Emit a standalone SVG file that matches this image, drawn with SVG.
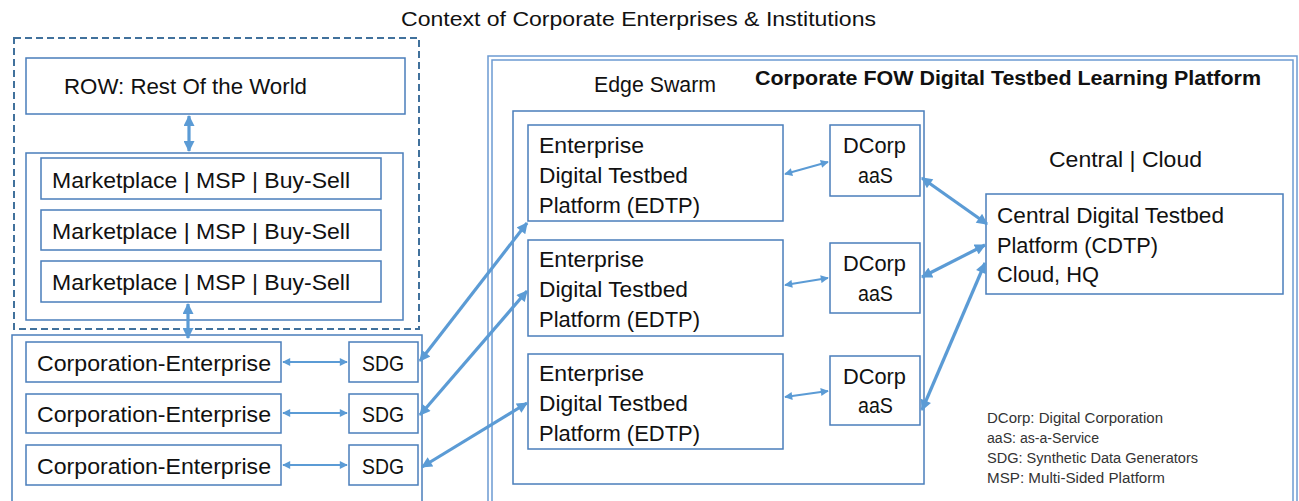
<svg xmlns="http://www.w3.org/2000/svg" width="1299" height="501" viewBox="0 0 1299 501">
<style>
text{font-family:"Liberation Sans",Arial,sans-serif;fill:#111;}
.t{font-size:22px;}
.b{fill:#fff;stroke:#4a7ebb;stroke-width:1.5;}
.o{fill:none;stroke:#4a7ebb;stroke-width:1.5;}
.thin{stroke:#5b9bd5;stroke-width:2;fill:none;marker-start:url(#as);marker-end:url(#as);}
.thick{stroke:#5b9bd5;stroke-width:3.2;fill:none;marker-start:url(#al);marker-end:url(#al);}
.lg{font-size:14px;fill:#333;}
</style>
<defs>
<marker id="as" viewBox="0 0 10 10" refX="9" refY="5" markerWidth="9" markerHeight="8" markerUnits="userSpaceOnUse" orient="auto-start-reverse"><path d="M0,0 L10,5 L0,10 z" fill="#5b9bd5"/></marker>
<marker id="al" viewBox="0 0 10 10" refX="9" refY="5" markerWidth="12" markerHeight="11" markerUnits="userSpaceOnUse" orient="auto-start-reverse"><path d="M0,0 L10,5 L0,10 z" fill="#5b9bd5"/></marker>
</defs>
<rect width="1299" height="501" fill="#fff"/>
<text x="401" y="26" font-size="20" textLength="475" lengthAdjust="spacingAndGlyphs">Context of Corporate Enterprises &amp; Institutions</text>

<g id="row-context">
<rect x="14" y="38" width="405" height="291" fill="none" stroke="#41719c" stroke-width="2" stroke-dasharray="7,4"/>
</g>
<g id="row"><rect class="b" x="26" y="58" width="379" height="56"/><text class="t" x="64" y="94" textLength="243" lengthAdjust="spacingAndGlyphs">ROW: Rest Of the World</text></g>
<g id="marketplaces"><rect class="o" x="26" y="153" width="377" height="167"/></g>
<g id="mp1"><rect class="b" x="41" y="158" width="340" height="41"/><text class="t" x="52" y="188" textLength="298" lengthAdjust="spacingAndGlyphs">Marketplace | MSP | Buy-Sell</text></g>
<g id="mp2"><rect class="b" x="41" y="210" width="340" height="40"/><text class="t" x="52" y="239" textLength="298" lengthAdjust="spacingAndGlyphs">Marketplace | MSP | Buy-Sell</text></g>
<g id="mp3"><rect class="b" x="41" y="261" width="340" height="41"/><text class="t" x="52" y="290" textLength="298" lengthAdjust="spacingAndGlyphs">Marketplace | MSP | Buy-Sell</text></g>

<g id="corporations"><rect class="o" x="12" y="335" width="410" height="180"/></g>
<g id="ce1"><rect class="b" x="26" y="342" width="255" height="40"/><text class="t" x="37" y="371" textLength="234" lengthAdjust="spacingAndGlyphs">Corporation-Enterprise</text></g>
<g id="ce2"><rect class="b" x="26" y="394" width="255" height="39"/><text class="t" x="37" y="422" textLength="234" lengthAdjust="spacingAndGlyphs">Corporation-Enterprise</text></g>
<g id="ce3"><rect class="b" x="26" y="445" width="255" height="40"/><text class="t" x="37" y="474" textLength="234" lengthAdjust="spacingAndGlyphs">Corporation-Enterprise</text></g>
<g id="sdg1"><rect class="b" x="349" y="342" width="69" height="40"/><text class="t" x="362" y="371" textLength="42" lengthAdjust="spacingAndGlyphs">SDG</text></g>
<g id="sdg2"><rect class="b" x="349" y="394" width="69" height="39"/><text class="t" x="362" y="422" textLength="42" lengthAdjust="spacingAndGlyphs">SDG</text></g>
<g id="sdg3"><rect class="b" x="349" y="445" width="69" height="40"/><text class="t" x="362" y="474" textLength="42" lengthAdjust="spacingAndGlyphs">SDG</text></g>

<g id="platform">
<rect x="488" y="56" width="809" height="470" fill="none" stroke="#6c9bd2" stroke-width="1.5"/>
<rect x="492" y="60" width="801" height="470" fill="none" stroke="#6c9bd2" stroke-width="1.5"/>
<text x="755" y="85" font-size="20" font-weight="bold" textLength="506" lengthAdjust="spacingAndGlyphs">Corporate FOW Digital Testbed Learning Platform</text>
</g>
<g id="edge-swarm"><rect class="o" x="513" y="111" width="411" height="373"/><text class="t" x="594" y="92" textLength="122" lengthAdjust="spacingAndGlyphs">Edge Swarm</text></g>
<g id="edtp1"><rect class="b" x="528" y="125" width="255" height="96"/>
<text class="t" x="539" y="153" textLength="105" lengthAdjust="spacingAndGlyphs">Enterprise</text>
<text class="t" x="539" y="183" textLength="149" lengthAdjust="spacingAndGlyphs">Digital Testbed</text>
<text class="t" x="539" y="213" textLength="161" lengthAdjust="spacingAndGlyphs">Platform (EDTP)</text></g>
<g id="edtp2"><rect class="b" x="528" y="240" width="255" height="96"/>
<text class="t" x="539" y="267" textLength="105" lengthAdjust="spacingAndGlyphs">Enterprise</text>
<text class="t" x="539" y="297" textLength="149" lengthAdjust="spacingAndGlyphs">Digital Testbed</text>
<text class="t" x="539" y="327" textLength="161" lengthAdjust="spacingAndGlyphs">Platform (EDTP)</text></g>
<g id="edtp3"><rect class="b" x="528" y="354" width="255" height="95"/>
<text class="t" x="539" y="381" textLength="105" lengthAdjust="spacingAndGlyphs">Enterprise</text>
<text class="t" x="539" y="411" textLength="149" lengthAdjust="spacingAndGlyphs">Digital Testbed</text>
<text class="t" x="539" y="441" textLength="161" lengthAdjust="spacingAndGlyphs">Platform (EDTP)</text></g>
<g id="dcorp1"><rect class="b" x="830" y="125" width="90" height="71"/>
<text class="t" x="843" y="153" textLength="63" lengthAdjust="spacingAndGlyphs">DCorp</text>
<text class="t" x="858" y="183" textLength="35" lengthAdjust="spacingAndGlyphs">aaS</text></g>
<g id="dcorp2"><rect class="b" x="830" y="243" width="90" height="70"/>
<text class="t" x="843" y="271" textLength="63" lengthAdjust="spacingAndGlyphs">DCorp</text>
<text class="t" x="858" y="301" textLength="35" lengthAdjust="spacingAndGlyphs">aaS</text></g>
<g id="dcorp3"><rect class="b" x="830" y="356" width="90" height="69"/>
<text class="t" x="843" y="384" textLength="63" lengthAdjust="spacingAndGlyphs">DCorp</text>
<text class="t" x="858" y="413" textLength="35" lengthAdjust="spacingAndGlyphs">aaS</text></g>
<g id="central"><text class="t" x="1049" y="167" textLength="153" lengthAdjust="spacingAndGlyphs">Central | Cloud</text></g>
<g id="cdtp"><rect class="b" x="986" y="194" width="297" height="100"/>
<text class="t" x="997" y="223" textLength="227" lengthAdjust="spacingAndGlyphs">Central Digital Testbed</text>
<text class="t" x="997" y="253" textLength="161" lengthAdjust="spacingAndGlyphs">Platform (CDTP)</text>
<text class="t" x="997" y="282" textLength="102" lengthAdjust="spacingAndGlyphs">Cloud, HQ</text></g>
<g id="legend">
<text class="lg" x="987" y="423" textLength="176" lengthAdjust="spacingAndGlyphs">DCorp: Digital Corporation</text>
<text class="lg" x="987" y="443" textLength="112" lengthAdjust="spacingAndGlyphs">aaS: as-a-Service</text>
<text class="lg" x="987" y="463" textLength="211" lengthAdjust="spacingAndGlyphs">SDG: Synthetic Data Generators</text>
<text class="lg" x="987" y="483" textLength="178" lengthAdjust="spacingAndGlyphs">MSP: Multi-Sided Platform</text>
</g>

<g id="connectors">
<line class="thick" x1="189" y1="116" x2="189" y2="151"/>
<line class="thick" x1="188" y1="304" x2="188" y2="338"/>
<line class="thin" x1="283" y1="362" x2="347" y2="362"/>
<line class="thin" x1="283" y1="413" x2="347" y2="413"/>
<line class="thin" x1="283" y1="465" x2="347" y2="465"/>
<line class="thick" x1="420" y1="361" x2="527" y2="223"/>
<line class="thick" x1="420" y1="415" x2="527" y2="291"/>
<line class="thick" x1="422" y1="467" x2="527" y2="403"/>
<line class="thin" x1="785" y1="174" x2="828" y2="162"/>
<line class="thin" x1="785" y1="285" x2="828" y2="278"/>
<line class="thin" x1="785" y1="397" x2="828" y2="391"/>
<line class="thick" x1="922" y1="178" x2="987" y2="224"/>
<line class="thick" x1="922" y1="277" x2="985" y2="245"/>
<line class="thick" x1="922" y1="410" x2="985" y2="263"/>
</g>
</svg>
